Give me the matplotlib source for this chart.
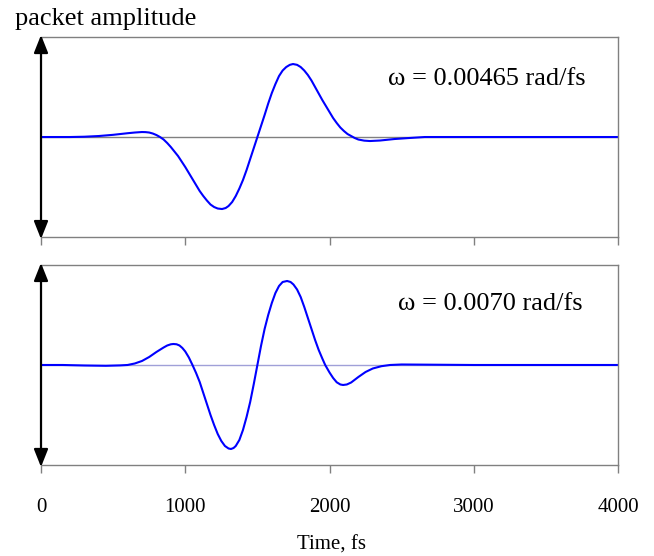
import matplotlib.pyplot as plt

plt.rcParams['font.family'] = ['Liberation Serif', 'DejaVu Serif']

# wave packet, omega = 0.00465 rad/fs (time in fs, amplitude relative)
t_a = [0, 200, 300, 400, 500, 600, 650, 700, 725, 750, 775, 800, 825, 850,
       875, 900, 925, 950, 975, 1000, 1025, 1050, 1075, 1100, 1125, 1150, 1175,
       1200, 1225, 1255, 1280, 1300, 1325, 1350, 1375, 1400, 1425, 1450, 1475,
       1500, 1525, 1550, 1575, 1600, 1625, 1650, 1675, 1700, 1725, 1747, 1775,
       1800, 1825, 1850, 1875, 1900, 1925, 1950, 1975, 2000, 2025, 2050, 2075,
       2100, 2125, 2150, 2175, 2200, 2240, 2280, 2350, 2450, 2550, 2660, 4000]
amp_a = [0, 0, 0.003, 0.01, 0.022, 0.038, 0.045, 0.05, 0.049, 0.045, 0.035,
         0.02, 0.0, -0.025, -0.06, -0.10, -0.145, -0.19, -0.245, -0.30, -0.36,
         -0.42, -0.48, -0.54, -0.59, -0.635, -0.675, -0.70, -0.715, -0.72,
         -0.71, -0.69, -0.65, -0.59, -0.515, -0.43, -0.33, -0.22, -0.11, 0.0,
         0.11, 0.22, 0.335, 0.44, 0.53, 0.61, 0.665, 0.70, 0.722, 0.73, 0.722,
         0.70, 0.665, 0.62, 0.565, 0.50, 0.435, 0.37, 0.31, 0.25, 0.19, 0.14,
         0.095, 0.06, 0.03, 0.01, -0.01, -0.025, -0.036, -0.04, -0.035, -0.02,
         -0.01, 0, 0]

# wave packet, omega = 0.0070 rad/fs
t_b = [0, 150, 300, 450, 550, 600, 650, 700, 750, 800, 850, 875, 900, 918,
       940, 960, 980, 1000, 1025, 1050, 1075, 1100, 1125, 1150, 1175, 1200,
       1225, 1250, 1275, 1300, 1317, 1335, 1350, 1375, 1400, 1425, 1450, 1475,
       1500, 1525, 1550, 1575, 1600, 1625, 1650, 1675, 1706, 1730, 1750, 1775,
       1800, 1825, 1850, 1875, 1900, 1925, 1950, 1970, 2000, 2025, 2050, 2075,
       2094, 2120, 2150, 2200, 2250, 2300, 2360, 2420, 2500, 2700, 3000, 4000]
amp_b = [0, 0, -0.005, -0.008, -0.004, 0.0, 0.015, 0.04, 0.08, 0.13, 0.175,
         0.195, 0.207, 0.21, 0.207, 0.195, 0.17, 0.135, 0.075, 0.0, -0.08,
         -0.17, -0.28, -0.39, -0.50, -0.60, -0.69, -0.76, -0.81, -0.835, -0.84,
         -0.83, -0.81, -0.75, -0.65, -0.52, -0.37, -0.19, 0.0, 0.19, 0.36, 0.50,
         0.62, 0.72, 0.79, 0.83, 0.84, 0.83, 0.805, 0.755, 0.68, 0.58, 0.47,
         0.36, 0.25, 0.15, 0.065, 0.0, -0.075, -0.13, -0.173, -0.195, -0.20,
         -0.195, -0.175, -0.12, -0.07, -0.035, -0.012, 0.0, 0.005, 0.003, 0, 0]

labels = ['\u03c9 = 0.00465 rad/fs', '\u03c9 = 0.0070 rad/fs']
ticks = [0, 1000, 2000, 3000, 4000]

fig = plt.figure(figsize=(6.54, 5.56), dpi=100)
ax1 = fig.add_axes([0.0627, 0.5737, 0.8823, 0.3597])
ax2 = fig.add_axes([0.0627, 0.1637, 0.8823, 0.3597])

panels = [(ax1, t_a, amp_a, labels[0], '#808080', 0.601, 0.76),
          (ax2, t_b, amp_b, labels[1], '#a0a0d8', 0.619, 0.775)]

for ax, t, a, lab, zc, tx, ty in panels:
    ax.axhline(0, color=zc, lw=1.0, zorder=1)
    ax.plot(t, a, color='#0000ff', lw=1.5, zorder=2)
    ax.set_xlim(0, 4000)
    ax.set_ylim(-1, 1)
    ax.set_yticks([])
    ax.set_xticks(ticks)
    ax.tick_params(axis='x', direction='out', length=6, width=1,
                   color='#808080', labelsize=15, pad=18)
    for s in ['top', 'right', 'bottom']:
        ax.spines[s].set_color('#808080')
        ax.spines[s].set_linewidth(1)
    ax.spines['left'].set_visible(False)
    # double-headed amplitude arrow along the left edge
    ax.annotate('', xy=(0, 1.01), xytext=(0, -0.01), xycoords='axes fraction',
                textcoords='axes fraction', annotation_clip=False,
                arrowprops=dict(arrowstyle='<|-|>,head_length=1.08,head_width=0.43',
                                mutation_scale=10, color='black', lw=1.6,
                                shrinkA=0, shrinkB=0))
    ax.text(tx, ty, lab, transform=ax.transAxes, fontsize=19, va='baseline')

ax1.tick_params(axis='x', labelbottom=False)

fig.text(15 / 654, 0.955, 'packet amplitude', fontsize=19, va='baseline')
fig.text(0.0627 + 0.8823 * 0.503, 1 - 550 / 556, 'Time, fs', fontsize=15,
         ha='center', va='baseline')

fig.savefig('out.png', dpi=100)
